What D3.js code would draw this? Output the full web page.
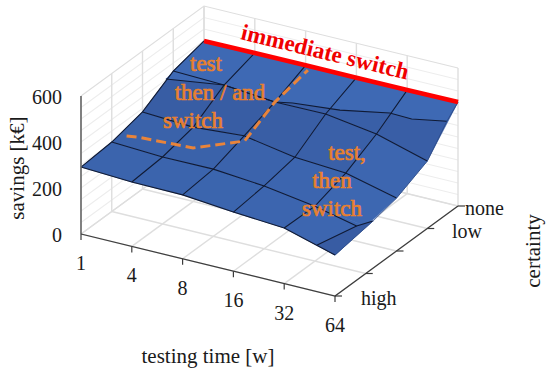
<!DOCTYPE html>
<html><head><meta charset="utf-8">
<script src="https://cdn.jsdelivr.net/npm/d3@7"></script>
<style>html,body{margin:0;padding:0;background:#fff}svg{display:block}text{font-family:"Liberation Serif",serif}</style>
</head><body><svg id="c" width="550" height="375"></svg>
<script>
const timeLabels = ["1","4","8","16","32","64"];
const certaintyLabels = ["high","","","low","none"];
const zTicks = [0,200,400,600];
const zGrid = [0,50,100,150,200,250,300,350,400,450,500,550,600];
// savings [k€] by certainty row (high → none) and testing time column
const rowHigh = [291,280,278,257,242,178];
const rowB    = [302,291,292,273,239,205];
const rowC    = [335,323,339,300,285,230];
const rowLow  = [415,408,388,390,357,293];
const rowNone = [448,450,450,450,450,452];
const surface = [rowHigh,rowB,rowC,rowLow,rowNone];
// cell tone per row/col: 0 light … 1 dark
const toneRow0 = [.5,.5,.45,.4,.3];
const toneRow1 = [.65,.65,.55,.4,.25];
const toneRow2 = [.95,.95,.9,.75,.3];
const toneRow3 = [.9,.9,.85,.8,.85];
const tones = [toneRow0,toneRow1,toneRow2,toneRow3];
// crest line on the surface: [time index, certainty index, savings]
const crest = [[0,2.76,404],[1,3,408],[2,3,388],[2.29,3.1,390],[3.1,3.3,383],[3.96,3.5,397],[4.33,3.6,381],[5,3.64,404]];
// fold at the far end of the front row
const fold = [[4.65,0,203],[4.82,1,197],[5,1.24,205]];
// right edge between the rows
const rightEdge = [[5,0,178],[5,1.24,205],[5,2,230],[5,3,293],[5,3.64,404],[5,4,452]];
// dashed boundary: [time index, certainty index, savings]
const boundary = [[.05,1.4,292],[.27,1.4,299],[1.31,1.48,300],[2.07,1.9,330],[2,3,388],[2.13,3.86,450]];

const svg = d3.select("#c");
const xi = d3.scaleLinear().domain([0,5]).range([0,254]);
const xiY = d3.scaleLinear().domain([0,5]).range([0,62]);
const yj = d3.scaleLinear().domain([0,4]).range([0,123]);
const yjY = d3.scaleLinear().domain([0,4]).range([0,-90]);
const zs = d3.scaleLinear().domain([0,600]).range([0,-138]);
const P = (i,j,z=0)=>[81+xi(i)+yj(j), 234+xiY(i)+yjY(j)+zs(z)];
const line = d3.line();
const path = (pts,o)=>{const s=svg.append("path").attr("d",line(pts)).attr("fill",o.fill||"none")
  .attr("stroke",o.stroke||"none").attr("stroke-width",o.w||1);
  if(o.dash)s.attr("stroke-dasharray",o.dash); if(o.join)s.attr("stroke-linejoin",o.join); return s;};
const maxI=5,maxJ=4;
const I=d3.range(maxI+1),J=d3.range(maxJ+1);
const gridV="#dedede",gridH="#ededed";

// walls
zGrid.forEach(z=>{
  path([P(0,0,z),P(0,maxJ,z),P(maxI,maxJ,z)],{stroke:z%600?gridH:gridV,w:1.1});
});
J.forEach(j=>path([P(0,j,0),P(0,j,600)],{stroke:gridV,w:1.4}));
I.forEach(i=>path([P(i,maxJ,0),P(i,maxJ,600)],{stroke:gridV,w:1.4}));
// floor
I.forEach(i=>path([P(i,0),P(i,maxJ)],{stroke:gridV,w:1.4}));
J.forEach(j=>path([P(0,j),P(maxI,j)],{stroke:gridV,w:1.4}));

// surface cells
const tone = d3.scaleLinear().domain([0,.5,1]).range(["#3f6ab5","#3b64ad","#385ca3"]);
tones.forEach((r,j)=>r.forEach((t,i)=>{
  const q=[P(i,j,surface[j][i]),P(i+1,j,surface[j][i+1]),P(i+1,j+1,surface[j+1][i+1]),P(i,j+1,surface[j+1][i])];
  path(q.concat([q[0]]),{fill:tone(t),stroke:tone(t),w:.6});
}));
const cx=a=>P(a[0],a[1],a[2]);
// light band behind the crest, dark fold at the front corner
path([...crest.map(cx),P(5,4,452),P(0,4,448),cx(crest[0])],{fill:"#3e69b4",stroke:"#3e69b4",w:.4});
path([P(5,0,178),...fold.map(cx),P(5,0,178)],{fill:"#385ca3",stroke:"#385ca3",w:.5});

// mesh lines
const ink="#101a34";
surface.slice(0,4).forEach((r,j)=>{
  if(j===1){ path([...r.slice(0,5).map((z,i)=>P(i,j,z)),cx(fold[1])],{stroke:ink,w:1.1}); }
  else path(r.map((z,i)=>P(i,j,z)),{stroke:ink,w:1.1,join:"round"});
});
I.slice(0,5).forEach(i=>path(surface.map((r,j)=>P(i,j,r[i])),{stroke:ink,w:1.1}));
path(crest.map(cx),{stroke:ink,w:1.1});
path(fold.map(cx),{stroke:ink,w:1.1});
path(rightEdge.map(cx),{stroke:"#2a4784",w:.8});

// immediate switch border
path(rowNone.map((z,i)=>P(i,4,z)),{stroke:"#ff0000",w:4.6});
// dashed boundary
path(boundary.map(cx),{stroke:"#e9843a",w:3,dash:"10,5"});

// axes
const axisC="#3c3c3c";
path([P(0,0,0),P(0,0,600)],{stroke:"#666",w:1.6});
path([P(0,0),P(maxI,0),P(maxI,maxJ)],{stroke:axisC,w:1.2});
I.forEach(i=>{const p=P(i,0);path([p,[p[0],p[1]+6]],{stroke:axisC,w:1.2});});
J.forEach(j=>{const p=P(maxI,j);path([p,[p[0]+7,p[1]]],{stroke:axisC,w:1.2});});

const txt=(s,x,y,o={})=>svg.append("text").text(s).attr("x",x).attr("y",y)
  .attr("text-anchor",o.a||"middle").attr("dominant-baseline","central")
  .attr("font-size",o.fs||20).attr("font-weight",o.fw||400).attr("fill",o.c||"#1a1a1a")
  .attr("stroke",o.sw?o.c:null).attr("stroke-width",o.sw||null)
  .attr("transform",o.r?`rotate(${o.r},${x},${y})`:null);
zTicks.forEach(z=>txt(d3.format("d")(z),62,P(0,0,z)[1]+1,{a:"end"}));
timeLabels.forEach((t,i)=>{const p=P(i,0);txt(t,p[0],p[1]+29,{});});
certaintyLabels.forEach((t,j)=>{ if(!t)return; const p=P(maxI,j);
  const x={high:361,low:452,none:465}[t]; txt(t,x,p[1]+2,{a:"start"});});
txt("testing time [w]",208,356,{fs:21});
txt("savings [k€]",17,168,{r:-90,fs:21});
txt("certainty",533,251,{r:-90,fs:21});

const orange="#e8802f";
[["test",206,63],["then / and",220,92],["switch",193,120],["test,",347,152],["then",332,180],["switch",332,208]]
 .forEach(d=>txt(d[0],d[1],d[2],{c:orange,fs:23,sw:.7}));
txt("immediate switch",325,52,{c:"#f00000",fw:700,fs:23,r:13.7});
</script></body></html>
